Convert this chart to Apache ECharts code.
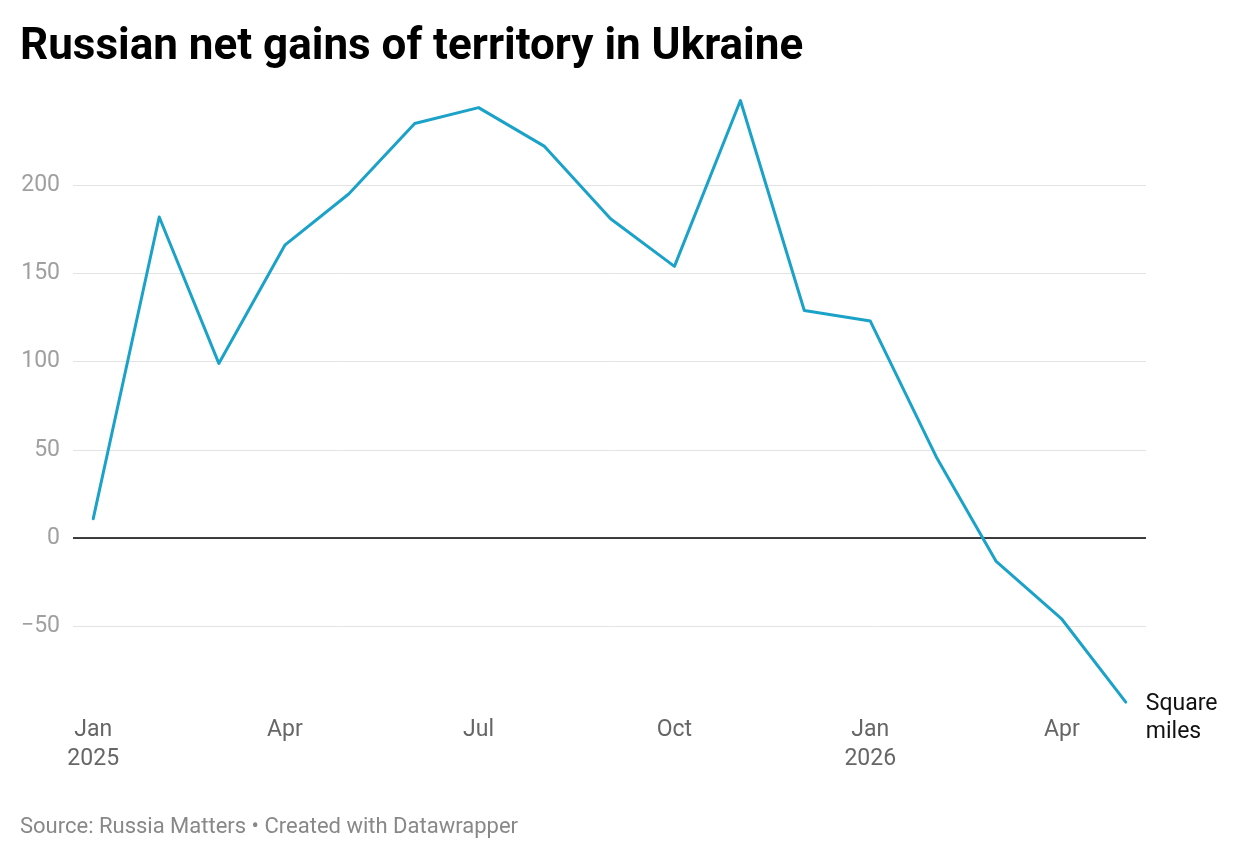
<!DOCTYPE html>
<html>
<head>
<meta charset="utf-8">
<script src="https://cdn.jsdelivr.net/npm/echarts@6/dist/echarts.min.js"></script>
<style>
html,body{margin:0;padding:0;background:#fff;}
#c{width:1240px;height:858px;}
</style>
</head>
<body>
<div id="c"></div>
<script>
const months = ['2025-01-01','2025-02-01','2025-03-01','2025-04-01','2025-05-01','2025-06-01','2025-07-01','2025-08-01','2025-09-01','2025-10-01','2025-11-01','2025-12-01','2026-01-01','2026-02-01','2026-03-01','2026-04-01','2026-05-01'];
const gains = [11, 182, 99, 166, 195, 235, 244, 222, 181, 154, 248, 129, 123, 46, -13, -46, -93];
const xTickDates = ['2025-01-01','2025-04-01','2025-07-01','2025-10-01','2026-01-01','2026-04-01'];
const xTickLabels = ['Jan\n2025','Apr','Jul','Oct','Jan\n2026','Apr'];
const yTicks = [-50, 0, 50, 100, 150, 200];
const titleText = 'Russian net gains of territory in Ukraine';
const sourceText = 'Source: Russia Matters • Created with Datawrapper';
const unitLabel = 'Square\nmiles';

const DAY = 86400000;
const base = Date.UTC(2025, 0, 1);
const toDay = s => { const [y,m,d] = s.split('-').map(Number); return (Date.UTC(y, m-1, d) - base) / DAY; };
const data = months.map((m,i) => [toDay(m), gains[i]]);
const tickDays = xTickDates.map(toDay);
const labelMap = {};
tickDays.forEach((t,i) => labelMap[t] = xTickLabels[i]);

const chart = echarts.init(document.getElementById('c'));
chart.setOption({
  backgroundColor: '#fff',
  animation: false,
  textStyle: { fontFamily: 'Roboto' },
  title: [{
    text: titleText, left: 20, top: 24, padding: 0,
    textStyle: { fontFamily: 'Roboto', fontWeight: 'bold', fontSize: 44, lineHeight: 48, color: '#000' }
  }, {
    text: sourceText, left: 20, top: 814, padding: 0,
    textStyle: { fontFamily: 'Roboto', fontWeight: 'normal', fontSize: 22, lineHeight: 26, color: '#888' }
  }],
  grid: { left: 73, right: 94, top: 97, bottom: 858 - 714.5, containLabel: false },
  xAxis: {
    type: 'value',
    min: -9.5,
    max: toDay('2026-05-01') + 9.5,
    axisLine: { show: false },
    axisTick: { show: false },
    splitLine: { show: false },
    axisLabel: {
      customValues: tickDays,
      formatter: v => labelMap[v] || '',
      color: '#666', fontSize: 23, lineHeight: 29, margin: 1,
      fontFamily: 'Roboto'
    }
  },
  yAxis: {
    type: 'value', min: -100, max: 250, interval: 50,
    axisLine: { show: false },
    axisTick: { show: false },
    axisLabel: {
      customValues: yTicks,
      formatter: v => v < 0 ? '\u2212' + Math.abs(v) : String(v),
      color: '#a0a0a0', fontSize: 23, margin: 13, fontFamily: 'Roboto'
    },
    splitLine: {
      show: true,
      lineStyle: { color: ['transparent','#e3e3e3','#e3e3e3','#e3e3e3','#e3e3e3','#e3e3e3','#e3e3e3','transparent'], width: 1 }
    }
  },
  series: [{
    type: 'line',
    data: data,
    showSymbol: false,
    symbol: 'none',
    lineStyle: { color: '#1ba2c8', width: 3, cap: 'round', join: 'round' },
    itemStyle: { color: '#1ba2c8' },
    endLabel: {
      show: true, formatter: unitLabel, color: '#111', fontSize: 23,
      lineHeight: 28, fontFamily: 'Roboto', distance: 20, offset: [0, 16]
    },
    markLine: {
      silent: true, symbol: ['none','none'],
      label: { show: false },
      lineStyle: { color: '#000', width: 1.5, type: 'solid' },
      data: [{ yAxis: 0 }]
    },
    z: 5
  }]
});
</script>
</body>
</html>
